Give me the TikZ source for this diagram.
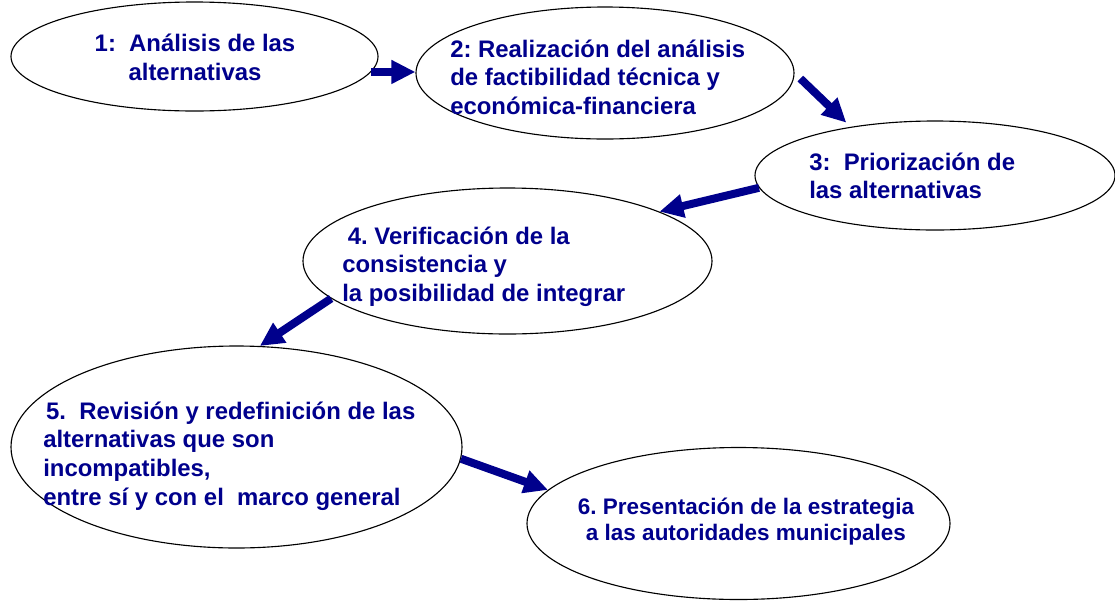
\documentclass[tikz,border=0pt]{standalone}
\usepackage{fontspec}
\setmainfont{Liberation Sans}
\usetikzlibrary{shapes.geometric, arrows.meta}
\definecolor{stepnavy}{rgb}{0.0, 0.0, 0.55}
\tikzset{stage/.style={draw, ellipse, line width=0.8pt, inner sep=0pt}}
\tikzset{stagetext/.style={inner sep=0pt, text=stepnavy, font=\fontsize{17}{20.3}\selectfont\bfseries\frenchspacing}}
\tikzset{flow/.style={line width=0.2cm, color=stepnavy, -{Triangle[length=0.6cm, width=0.56cm]}}}

\begin{document}
\begin{tikzpicture}%{{{
        \useasboundingbox (0, 0) rectangle (27.875, -15);

        \node[stage, minimum width=9.175cm, minimum height=2.725cm] (S1) at (4.8625, -1.4125) {};
        \node[stage, minimum width=9.45cm, minimum height=3.3cm] (S2) at (15.125, -1.825) {};
        \node[stage, minimum width=9.0cm, minimum height=2.725cm] (S3) at (23.375, -4.3875) {};
        \node[stage, minimum width=10.225cm, minimum height=3.65cm] (S4) at (12.6875, -6.525) {};
        \node[stage, minimum width=11.275cm, minimum height=5.05cm] (S5) at (5.9125, -11.175) {};
        \node[stage, minimum width=10.575cm, minimum height=3.8cm] (S6) at (18.4625, -13.0875) {};

        \node[stagetext, align=center] (T1) at (4.875, -1.4375)
        {1:~~Análisis de las\\alternativas};
        \node[stagetext, align=left, anchor=west] (T2) at (11.25, -1.93)
        {2: Realización del análisis\\de factibilidad técnica y\\económica-financiera};
        \node[stagetext, align=left, anchor=west] (T3) at (20.225, -4.4)
        {3:~~Priorización de\\las alternativas};
        \node[stagetext, align=left, anchor=west] (T4) at (8.55, -6.66)
        {\hspace*{4pt}4. Verificación de la\\consistencia y\\la posibilidad de integrar};
        \node[stagetext, align=left, anchor=west] (T5) at (1.075, -11.4)
        {\hspace*{2pt}5.~~Revisión y redefinición de las\\alternativas que son\\incompatibles,\\entre sí y con el~~marco general};
        \node[stagetext, align=center, font=\fontsize{16}{18.5}\selectfont\bfseries\frenchspacing] (T6) at (18.65, -13.05)
        {6. Presentación de la estrategia\\a las autoridades municipales};

        \draw [flow] (S1.-5) -- (S1.-5 -| S2.west);
        \draw [flow, shorten <=0.2cm, shorten >=0.15cm] (S2.east) -- (S3.150);
        \draw [flow] (S3.184) -- (S4.18);
        \draw [flow] (S4.192) -- (S5.77);
        \draw [flow] (S5.-3) -- (S6.170);
    \end{tikzpicture}
\end{document}
